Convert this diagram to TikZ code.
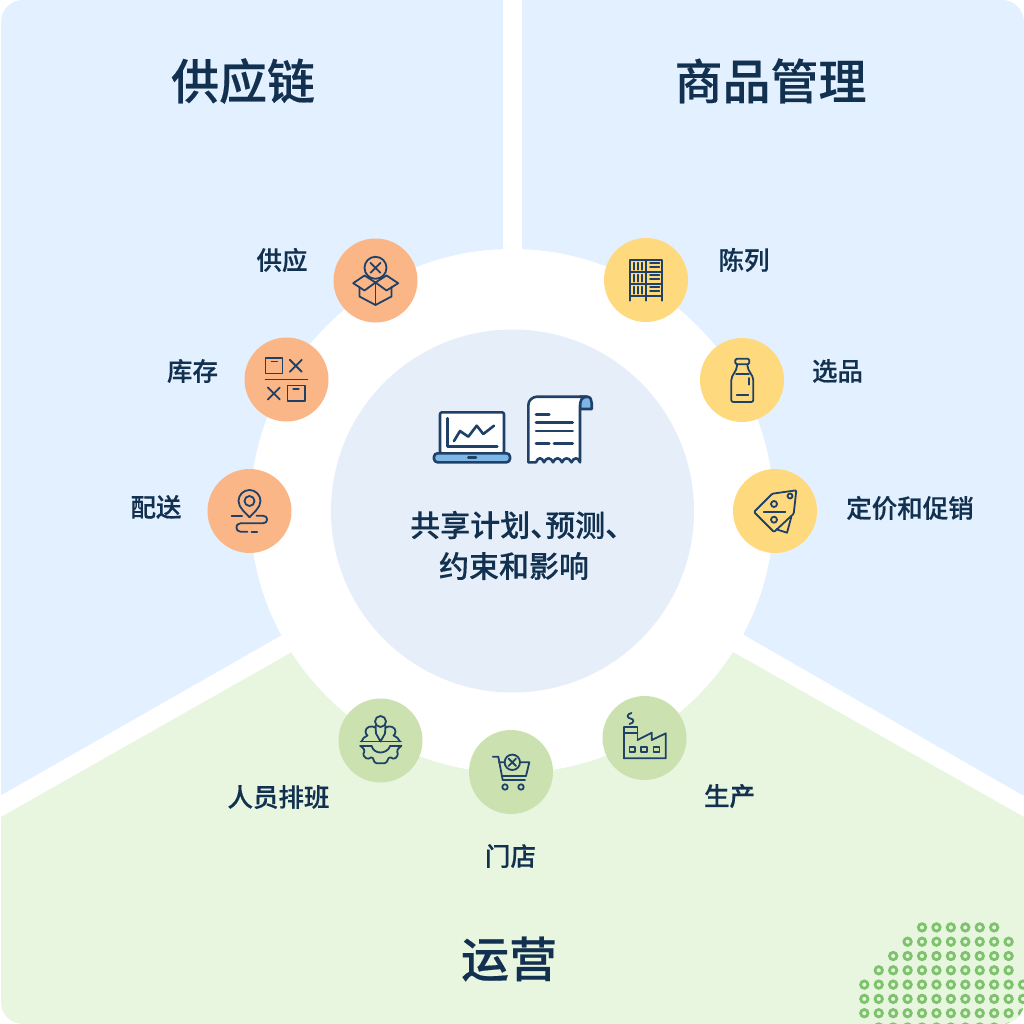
\documentclass[tikz,border=0pt]{standalone}
\usepackage{fontspec}
\setmainfont[BoldFont={Noto Sans CJK SC Medium},BoldFeatures={FakeBold=0.35}]{Noto Sans CJK SC}
\definecolor{panelblue}{HTML}{E3F0FF}
\definecolor{panelgreen}{HTML}{E8F5DF}
\definecolor{hub}{HTML}{E6EFF9}
\definecolor{txt}{HTML}{12304F}
\definecolor{ico}{HTML}{1F4168}
\definecolor{cor}{HTML}{FBB687}
\definecolor{cye}{HTML}{FFD97D}
\definecolor{cgr}{HTML}{CBE2B0}
\definecolor{dotg}{HTML}{7CC36C}
\definecolor{accent}{HTML}{7DB7E8}
\tikzset{
 disc/.style={circle,minimum size=84pt,inner sep=0pt,draw=none,fill=#1},
 lab/.style={text=txt,font=\fontsize{25.5}{30}\selectfont\bfseries,inner sep=0pt},
 ttl/.style={text=txt,font=\fontsize{48}{56}\selectfont\bfseries,inner sep=0pt},
 hubtxt/.style={text=txt,font=\fontsize{30}{40}\selectfont\bfseries,inner sep=0pt},
 icn/.style={draw=ico,line width=1.8pt,line cap=round,line join=round},
 icb/.style={draw=ico,line width=2.6pt,line cap=round,line join=round},
 ringdot/.style={draw=dotg,line width=2.8pt,fill=none},
}
\begin{document}
\begin{tikzpicture}[x=1pt,y=-1pt]
\useasboundingbox (0,0) rectangle (1024,1024);
\begin{scope}
\clip[rounded corners=22pt] (1,0) rectangle (1024,1024);
\fill[panelblue] (0,0) -- (503,0) -- (503,300) -- (282,635) -- (0,795.8) -- cycle;
\fill[panelblue] (522,0) -- (1024,0) -- (1024,796) -- (744,635) -- (522,300) -- cycle;
\fill[panelgreen] (0,817.5) -- (292,652) -- (512,511) -- (733,652) -- (1024,817) -- (1024,1024) -- (0,1024) -- cycle;
\foreach \r/\a/\b in {0/4/9,1/3/10,2/2/10,3/1/10,4/0/11,5/0/11,6/0/11,7/1/11}{
  \foreach \j in {\a,...,\b}{
    \draw[ringdot] ({864.3+14.43*\j},{927.4+14.3*\r}) circle (3.7);
  }
}
\end{scope}
\node[circle,fill=white,minimum size=524pt,inner sep=0pt] (ring) at (512,511) {};
\node[circle,fill=hub,minimum size=363pt,inner sep=0pt] (hubc) at (512.5,511) {};

\node[ttl] (t1) at (243,81) {供应链};
\node[ttl] (t2) at (770.5,81) {商品管理};
\node[ttl] (t3) at (509,959) {运营};

\node[disc=cor] (n1) at (375.5,280.5) {};
\node[disc=cor] (n2) at (286.5,379.5) {};
\node[disc=cor] (n3) at (249.5,511) {};
\node[disc=cye] (n4) at (646,280) {};
\node[disc=cye] (n5) at (742,380) {};
\node[disc=cye] (n6) at (775,511) {};
\node[disc=cgr] (n7) at (380.5,740.5) {};
\node[disc=cgr] (n8) at (511,772) {};
\node[disc=cgr] (n9) at (644.5,738) {};

\node[lab] (l1) at (282,260) {供应};
\node[lab] (l2) at (192.5,371) {库存};
\node[lab] (l3) at (156,507) {配送};
\node[lab] (l4) at (744,260) {陈列};
\node[lab] (l5) at (837.5,371) {选品};
\node[lab] (l6) at (910,508) {定价和促销};
\node[lab] (l7) at (278.5,797) {人员排班};
\node[lab] (l8) at (510.5,856) {门店};
\node[lab] (l9) at (729.5,796) {生产};

\node[hubtxt,anchor=west] (hubt1) at (410,525) {共享计划、\kern-15pt 预测、};
\node[hubtxt] (hubt2) at (514,566) {约束和影响};

% supply box
\begin{scope}[shift={(n1.center)},icn]
\draw (0,-12.7) circle (11);
\draw (-5,-17.7) -- (5,-7.7) (5,-17.7) -- (-5,-7.7);
\draw (-22.3,2.7) -- (-11,-5) -- (0,2) -- (-11,10) -- cycle;
\draw (22.7,2.7) -- (11,-5) -- (0,2) -- (11,10) -- cycle;
\draw (-16,6.5) -- (-16,16) -- (0,24.5) -- (16,16) -- (16,6.5);
\draw (0,2) -- (0,24.5);
\end{scope}
% inventory
\begin{scope}[shift={(n2.center)},icn]
\draw (-21,0) -- (21,0);
\draw (-21,-21.3) rectangle (-4,-6);
\draw (-15,-18) -- (-9.3,-18);
\draw (3.3,-19.7) -- (15.3,-7.7) (15.3,-19.7) -- (3.3,-7.7);
\draw (-18.7,8) -- (-6.7,20) (-6.7,8) -- (-18.7,20);
\draw (1,6) rectangle (18.3,21.3);
\draw (6.7,9.3) -- (12.3,9.3);
\end{scope}
% delivery
\begin{scope}[shift={(n3.center)},icn]
\draw (0,-10) circle (5);
\draw (0,6.3) .. controls (-3,2.5) and (-11,-3) .. (-11,-10) .. controls (-11,-16) and (-6,-21) .. (0,-21) .. controls (6,-21) and (11,-16) .. (11,-10) .. controls (11,-3) and (3,2.5) .. (0,6.3);
\draw (-18,4.7) -- (-7.3,4.7);
\draw (7,4.7) -- (13.5,4.7) .. controls (19,4.7) and (19,12.3) .. (13.5,12.3) -- (-9,12.3) .. controls (-14.5,12.3) and (-14.5,20.7) .. (-9,20.7) -- (-2,20.7);
\draw (2,20.7) -- (7.7,20.7);
\end{scope}
% shelf
\begin{scope}[shift={(n4.center)},icn]
\draw (-16.3,20.7) -- (-16.3,-20.3) -- (16.3,-20.3) -- (16.3,20.7);
\draw (0,-20.3) -- (0,20.7);
\foreach \y in {-8.3,3.7,16}{\draw (-16.3,\y) -- (16.3,\y);}
\foreach \y in {-17.3,-5.3,6.7}{
 \draw (-12,\y) -- (-12,\y+7) (-8.2,\y) -- (-8.2,\y+7) (-4.3,\y) -- (-4.3,\y+7);
 \draw (4,\y) -- (13.3,\y) (4,\y+4.2) -- (13.3,\y+4.2);
}
\end{scope}
% bottle
\begin{scope}[shift={(n5.center)},icn]
\draw[rounded corners=1.5pt] (-6.7,-21.3) rectangle (7.3,-15.7);
\draw[rounded corners=2pt] (-5,-15.7) -- (-5,-12) -- (-10.7,-2) -- (-10.7,22) -- (11.3,22) -- (11.3,-2) -- (5.5,-12) -- (5.5,-15.7);
\draw (-6,-6.3) -- (7,-6.3);
\draw (-5.3,15.3) -- (6.3,15.3);
\draw (7.3,-2) -- (7.3,4.7);
\end{scope}
% tag
\begin{scope}[shift={(n6.center)},icn]
\draw[rounded corners=1pt] (-21,1) -- (-2.7,-17.3) -- (21.3,-20.7) -- (18.7,2.7) -- (-1,21) -- cycle;
\draw (16.3,6) -- (12,21.7) -- (1.3,18.3);
\draw (15,-15) circle (2.5);
\draw (-11.3,1) -- (10.3,1);
\draw (-1,-7) circle (3);
\draw (-1,8.7) circle (3);
\end{scope}
% people and gear
\begin{scope}[shift={(n7.center)},icn]
\draw (-20,1) -- (20.5,1);
\draw (0,-19) circle (5.5);
\draw (-5,-15) -- (-4.5,-7) -- (0,1) -- (4.5,-7) -- (5,-15);
\draw (-5.5,-13) .. controls (-9,-15.5) and (-15,-13.5) .. (-15,-9) .. controls (-15,-7) and (-14,-6) .. (-13,-5) .. controls (-16,-4) and (-18,-2) .. (-19,1);
\draw (5.5,-13) .. controls (9,-15.5) and (15,-13.5) .. (15,-9) .. controls (15,-7) and (14,-6) .. (13,-5) .. controls (16,-4) and (18,-2) .. (19.5,1);
\draw[rounded corners=1.5pt] (-20,5.5) -- (-19,6) -- (-15.5,10) -- (-17.8,14.5) -- (-13.2,18.8) -- (-8.2,16.2) -- (-5.5,22.8) -- (5.5,22.8) -- (8.8,16.2) -- (13.8,18.8) -- (17.8,14.5) -- (16.2,10) -- (19.8,6) -- (20.5,5.5);
\draw (-20,5.5) -- (-8.8,5.5) .. controls (-8,9.5) and (-4,12) .. (0,12) .. controls (4,12) and (8.5,9.5) .. (9.5,5.5) -- (20.5,5.5);
\end{scope}
% cart
\begin{scope}[shift={(n8.center)},icn]
\draw (-18.3,-15.3) -- (-12.7,-15.3) -- (-8.3,8) -- (14,8);
\draw (-12,-9.7) -- (-6,-9.7) (9,-9.7) -- (18.3,-9.7) -- (15,4) -- (-9.3,4);
\draw (1.3,-9.7) circle (7.7);
\draw (-2.4,-13.4) -- (5,-6) (5,-13.4) -- (-2.4,-6);
\draw (-6,15) circle (2.7);
\draw (10,15) circle (2.7);
\end{scope}
% factory
\begin{scope}[shift={(n9.center)},icn]
\draw (-20.7,20.3) -- (21.3,20.3) -- (21.3,-4.7) -- (7.3,2) -- (7.3,-5.3) -- (-7,2);
\draw (-20.7,20.3) -- (-20.7,-10.7) -- (-7,-10.7) -- (-7,2);
\draw (-20.7,-4.7) -- (-7,-4.7);
\draw (-15,8.7) rectangle (-9.3,14.3);
\draw (-3.3,8.7) rectangle (2.3,14.3);
\draw (9,8.7) rectangle (15,14.3);
\draw (-13,-25) .. controls (-18,-24) and (-18,-20) .. (-14,-19.5) .. controls (-10,-19) and (-10,-15) .. (-15,-14);
\end{scope}
% laptop
\coordinate (lp) at (472,437);
\begin{scope}[shift={(lp)},icb]
\draw[fill=white,rounded corners=2pt] (-32,-24.7) rectangle (32,16.3);
\draw[fill=accent,rounded corners=3.5pt] (-38,16.3) rectangle (38,25.3);
\draw (-3.7,20.7) -- (4,20.7);
\draw (-24.3,-18.7) -- (-24.3,9.7) -- (25.3,9.7);
\draw (-18,4) -- (-12,-6) -- (-3.7,-0.3) -- (4.7,-11.3) -- (11.3,-3) -- (22,-11.3);
\end{scope}
% receipt
\coordinate (rc) at (560,430);
\begin{scope}[shift={(rc)},icb]
\draw[fill=accent] (20,-33.3) -- (27,-33.3) .. controls (30.5,-33.3) and (31.7,-30) .. (31.7,-27) -- (31.7,-21) -- (20,-21) -- cycle;
\draw[fill=white] (-31.7,-25) .. controls (-31.7,-30) and (-27,-33.3) .. (-23,-33.3) -- (27,-33.3) .. controls (21,-33.3) and (20,-28) .. (20,-24) -- (20,32.3) .. controls (18,27) and (14,27) .. (11.5,32.3) .. controls (9,27) and (4,27) .. (2,32.3) .. controls (0,27) and (-5,27) .. (-7,32.3) .. controls (-9,27) and (-14,27) .. (-16,32.3) .. controls (-18,27) and (-22,27) .. (-24,32.3) -- (-31.7,32.3) -- cycle;
\draw (-24,-15.7) -- (-10.7,-15.7);
\draw (-24,-7.3) -- (12.7,-7.3);
\draw (-24,1) -- (12.7,1);
\draw (-24,13.3) -- (-10.7,13.3);
\draw (-6,13.3) -- (12.7,13.3);
\end{scope}
\end{tikzpicture}
\end{document}
